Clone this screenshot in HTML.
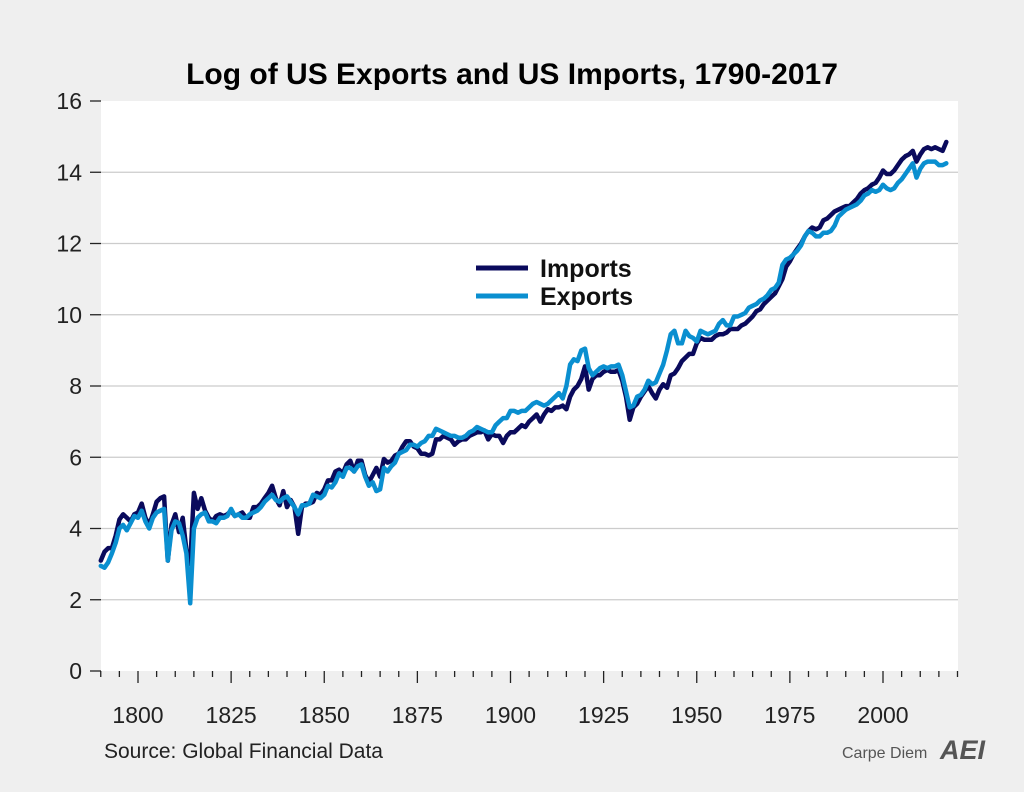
<!DOCTYPE html>
<html><head><meta charset="utf-8"><style>
html,body{margin:0;padding:0;background:#efefef;}
body{width:1024px;height:787px;overflow:hidden;font-family:"Liberation Sans",sans-serif;}
</style></head><body>
<svg id="s" width="1024" height="787" xmlns="http://www.w3.org/2000/svg" font-family="Liberation Sans, sans-serif">
<rect x="0" y="0" width="1024" height="787" fill="#efefef"/>
<rect x="101" y="101" width="857" height="570" fill="#ffffff"/>
<text x="512" y="84" text-anchor="middle" font-size="30" font-weight="bold" fill="#000">Log of US Exports and US Imports, 1790-2017</text>
<g id="grid"></g>
<g id="series"></g>
<line x1="476" y1="268" x2="528" y2="268" stroke="#0a0a5c" stroke-width="5"/>
<line x1="476" y1="296" x2="528" y2="296" stroke="#0a8fd0" stroke-width="5"/>
<text x="540" y="277" font-size="25" font-weight="bold" fill="#111">Imports</text>
<text x="540" y="305" font-size="25" font-weight="bold" fill="#111">Exports</text>
<text x="104" y="758" font-size="21" fill="#222">Source: Global Financial Data</text>
<text x="842" y="758" font-size="16" fill="#555">Carpe Diem</text>
<text x="940" y="759" font-size="27" font-weight="bold" font-style="italic" fill="#555">AEI</text>
</svg>
<script>
function X(y){return 100.75+(y-1790)*3.725;}
function Y(v){return 671-v*35.625;}
var g=document.getElementById('grid'),h='';
for(var v=0;v<=16;v+=2){var y=Y(v);
 if(v>0&&v<16)h+='<line x1="101" x2="958" y1="'+y+'" y2="'+y+'" stroke="#cccccc" stroke-width="1.2"/>';
 h+='<line x1="90" x2="101" y1="'+y+'" y2="'+y+'" stroke="#222" stroke-width="1.3"/>';
 h+='<text x="82" y="'+(y+8)+'" text-anchor="end" font-size="23" fill="#222">'+v+'</text>';}
for(var yr=1790;yr<=2020;yr+=5){var x=X(yr);var maj=(yr%25==0);
 h+='<line x1="'+x+'" x2="'+x+'" y1="671" y2="'+(maj?683:677)+'" stroke="#222" stroke-width="1.3"/>';
 if(maj)h+='<text x="'+x+'" y="723" text-anchor="middle" font-size="23" fill="#222">'+yr+'</text>';}
g.innerHTML=h;
var imp=[3.1,3.35,3.45,3.45,3.8,4.25,4.4,4.3,4.2,4.4,4.45,4.7,4.3,4.1,4.4,4.75,4.85,4.9,3.1,4.1,4.4,3.9,4.3,3.4,3.0,5.0,4.55,4.85,4.5,4.3,4.2,4.35,4.4,4.35,4.4,4.5,4.35,4.4,4.45,4.3,4.3,4.6,4.6,4.7,4.85,5.0,5.2,4.85,4.65,5.05,4.6,4.8,4.6,3.85,4.6,4.7,4.7,4.75,5.0,4.95,5.1,5.35,5.35,5.6,5.65,5.55,5.8,5.9,5.6,5.9,5.9,5.5,5.3,5.5,5.7,5.45,5.95,5.85,5.9,6.05,6.1,6.3,6.45,6.45,6.3,6.25,6.1,6.1,6.05,6.1,6.5,6.5,6.6,6.55,6.5,6.35,6.45,6.5,6.5,6.6,6.65,6.7,6.7,6.75,6.5,6.65,6.6,6.6,6.4,6.6,6.7,6.7,6.8,6.9,6.85,7.0,7.1,7.2,7.0,7.2,7.35,7.3,7.4,7.4,7.45,7.35,7.7,7.9,8.0,8.2,8.55,7.9,8.2,8.3,8.3,8.4,8.45,8.4,8.4,8.45,8.15,7.7,7.05,7.4,7.5,7.7,7.85,8.0,7.8,7.65,7.9,8.05,7.95,8.3,8.35,8.5,8.7,8.8,8.9,8.9,9.2,9.35,9.3,9.3,9.3,9.4,9.45,9.45,9.5,9.6,9.6,9.6,9.7,9.75,9.85,9.95,10.1,10.15,10.3,10.4,10.5,10.6,10.8,11.0,11.35,11.5,11.7,11.85,12.0,12.2,12.35,12.45,12.4,12.45,12.65,12.7,12.8,12.9,12.95,13.0,13.05,13.05,13.15,13.25,13.4,13.5,13.55,13.65,13.7,13.85,14.05,13.95,13.95,14.05,14.2,14.35,14.45,14.5,14.6,14.3,14.5,14.65,14.7,14.65,14.7,14.65,14.6,14.85];
var exp=[2.95,2.9,3.05,3.3,3.6,4.0,4.1,3.95,4.15,4.35,4.3,4.5,4.2,4.0,4.3,4.45,4.5,4.55,3.1,3.95,4.2,4.15,3.8,3.3,1.9,4.0,4.3,4.4,4.45,4.2,4.2,4.15,4.3,4.3,4.35,4.55,4.35,4.4,4.3,4.3,4.4,4.45,4.5,4.6,4.75,4.85,4.95,4.8,4.75,4.85,4.9,4.75,4.6,4.4,4.65,4.65,4.7,4.95,4.9,4.85,4.95,5.2,5.15,5.3,5.55,5.45,5.7,5.7,5.6,5.75,5.8,5.45,5.2,5.3,5.05,5.1,5.7,5.6,5.75,5.85,6.1,6.15,6.2,6.35,6.35,6.3,6.4,6.45,6.6,6.6,6.8,6.75,6.7,6.65,6.6,6.6,6.55,6.55,6.6,6.7,6.75,6.85,6.8,6.75,6.7,6.7,6.9,7.0,7.1,7.1,7.3,7.3,7.25,7.3,7.3,7.4,7.5,7.55,7.5,7.45,7.5,7.6,7.7,7.8,7.65,8.0,8.6,8.75,8.7,9.0,9.05,8.5,8.3,8.4,8.5,8.55,8.5,8.55,8.55,8.6,8.3,7.85,7.4,7.45,7.7,7.75,7.9,8.15,8.05,8.1,8.35,8.6,9.0,9.45,9.55,9.2,9.2,9.55,9.4,9.35,9.25,9.55,9.5,9.45,9.5,9.55,9.75,9.85,9.7,9.7,9.95,9.95,10.0,10.05,10.2,10.25,10.3,10.4,10.45,10.55,10.7,10.75,10.9,11.4,11.55,11.6,11.7,11.8,11.95,12.2,12.35,12.3,12.2,12.2,12.3,12.3,12.35,12.5,12.75,12.85,12.95,13.0,13.05,13.1,13.2,13.35,13.4,13.5,13.45,13.5,13.65,13.55,13.5,13.55,13.7,13.8,13.95,14.1,14.25,13.85,14.1,14.25,14.3,14.3,14.3,14.2,14.2,14.25];
function pl(a,c){var p=a.map(function(v,i){return X(1790+i).toFixed(1)+','+Y(v).toFixed(1);}).join(' ');
 return '<polyline points="'+p+'" fill="none" stroke="'+c+'" stroke-width="4.5" stroke-linejoin="round" stroke-linecap="round"/>';}
document.getElementById('series').innerHTML=pl(imp,'#0a0a5c')+pl(exp,'#0a8fd0');
</script>
</body></html>
